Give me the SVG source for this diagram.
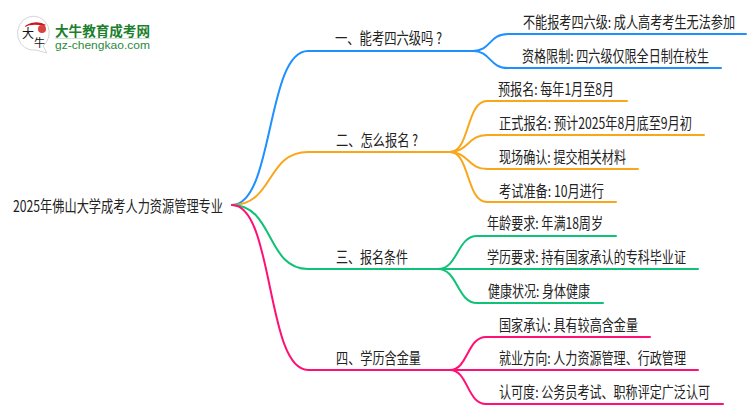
<svg xmlns="http://www.w3.org/2000/svg" width="750" height="410" viewBox="0 0 750 410">
<style>
text{font-family:"Noto Sans CJK SC","Noto Sans",sans-serif;font-size:12px;fill:#222}
.c{fill:none;stroke-width:2;stroke-linecap:round}
.b{stroke:#1e90ff}.o{stroke:#f9a61a}.g{stroke:#0fc278}.p{stroke:#ff1075}
</style>
<rect width="750" height="410" fill="#fff"/>
<g id="logo">
<path d="M48,26 A16,17 0 1 0 36,50 L47,53 L43,46 A16,17 0 0 0 48,26Z" fill="#fff" stroke="#d5d5d5" stroke-width="1"/>
<path d="M24,27 A15,11 0 0 1 46,25 L44,26 A16,7 0 0 0 24,27Z" fill="#c8161d"/>
<circle cx="42" cy="29" r="4" fill="#d8433f"/>
<text x="22" y="38" style="font-size:12px;fill:#111">大</text>
<text x="34" y="47" style="font-size:11px;fill:#111">牛</text>
<text x="55" y="36" textLength="95" lengthAdjust="spacingAndGlyphs" style="font-size:13.5px;font-weight:700;fill:#1b7f2e">大牛教育成考网</text>
<rect x="55" y="38" width="95" height="1" fill="#cfe3d3"/>
<text x="55" y="49" textLength="95" lengthAdjust="spacingAndGlyphs" style="font-family:'Liberation Sans',sans-serif;font-size:11px;fill:#2b8a3e">gz-chengkao.com</text>
</g>
<g id="connectors">
<path class="c b" d="M232,205 C274,205 266,51 308,51 H473"/>
<path class="c b" d="M473,51 C491,51 489,34 508,34 H746"/>
<path class="c b" d="M473,51 C491,51 489,68 508,68 H721"/>
<path class="c o" d="M232,205 C274,205 266,152 308,152 H450"/>
<path class="c o" d="M450,152 C470,152 466,101 487,101 H627"/>
<path class="c o" d="M450,152 C468,152 468,135 487,135 H704"/>
<path class="c o" d="M450,152 C468,152 468,169 487,169 H638"/>
<path class="c o" d="M450,152 C470,152 466,202 487,202 H616"/>
<path class="c g" d="M232,205 C274,205 266,269 308,269 H438"/>
<path class="c g" d="M438,269 C458,269 457,236 477,236 H616"/>
<path class="c g" d="M438,269 H698"/>
<path class="c g" d="M438,269 C458,269 457,303 477,303 H603"/>
<path class="c p" d="M232,205 C274,205 266,370 308,370 H450"/>
<path class="c p" d="M450,370 C468,370 467,337 486,337 H650"/>
<path class="c p" d="M450,370 H698"/>
<path class="c p" d="M450,370 C468,370 467,404 486,404 H723"/>
</g>
<g id="root"><text transform="translate(13,212) scale(1,1.28)" textLength="210" lengthAdjust="spacingAndGlyphs">2025年佛山大学成考人力资源管理专业</text></g>
<g id="n1"><text transform="translate(335,44) scale(1,1.28)" textLength="107" lengthAdjust="spacingAndGlyphs">一、能考四六级吗 ?</text></g>
<g id="n1a"><text transform="translate(523,28) scale(1,1.28)" textLength="212" lengthAdjust="spacingAndGlyphs">不能报考四六级: 成人高考考生无法参加</text></g>
<g id="n1b"><text transform="translate(522,62) scale(1,1.28)" textLength="187" lengthAdjust="spacingAndGlyphs">资格限制: 四六级仅限全日制在校生</text></g>
<g id="n2"><text transform="translate(336,146) scale(1,1.28)" textLength="82" lengthAdjust="spacingAndGlyphs">二、怎么报名 ?</text></g>
<g id="n2a"><text transform="translate(498,95) scale(1,1.28)" textLength="116" lengthAdjust="spacingAndGlyphs">预报名: 每年1月至8月</text></g>
<g id="n2b"><text transform="translate(499,129) scale(1,1.28)" textLength="193" lengthAdjust="spacingAndGlyphs">正式报名: 预计2025年8月底至9月初</text></g>
<g id="n2c"><text transform="translate(499,163) scale(1,1.28)" textLength="127" lengthAdjust="spacingAndGlyphs">现场确认: 提交相关材料</text></g>
<g id="n2d"><text transform="translate(499,197) scale(1,1.28)" textLength="105" lengthAdjust="spacingAndGlyphs">考试准备: 10月进行</text></g>
<g id="n3"><text transform="translate(336,263) scale(1,1.28)" textLength="72" lengthAdjust="spacingAndGlyphs">三、报名条件</text></g>
<g id="n3a"><text transform="translate(487,229) scale(1,1.28)" textLength="116" lengthAdjust="spacingAndGlyphs">年龄要求: 年满18周岁</text></g>
<g id="n3b"><text transform="translate(487,263) scale(1,1.28)" textLength="199" lengthAdjust="spacingAndGlyphs">学历要求: 持有国家承认的专科毕业证</text></g>
<g id="n3c"><text transform="translate(488,297) scale(1,1.28)" textLength="102" lengthAdjust="spacingAndGlyphs">健康状况: 身体健康</text></g>
<g id="n4"><text transform="translate(336,364) scale(1,1.28)" textLength="85" lengthAdjust="spacingAndGlyphs">四、学历含金量</text></g>
<g id="n4a"><text transform="translate(499,331) scale(1,1.28)" textLength="139" lengthAdjust="spacingAndGlyphs">国家承认: 具有较高含金量</text></g>
<g id="n4b"><text transform="translate(499,364) scale(1,1.28)" textLength="187" lengthAdjust="spacingAndGlyphs">就业方向: 人力资源管理、行政管理</text></g>
<g id="n4c"><text transform="translate(499,398) scale(1,1.28)" textLength="211" lengthAdjust="spacingAndGlyphs">认可度: 公务员考试、职称评定广泛认可</text></g>
</svg>
